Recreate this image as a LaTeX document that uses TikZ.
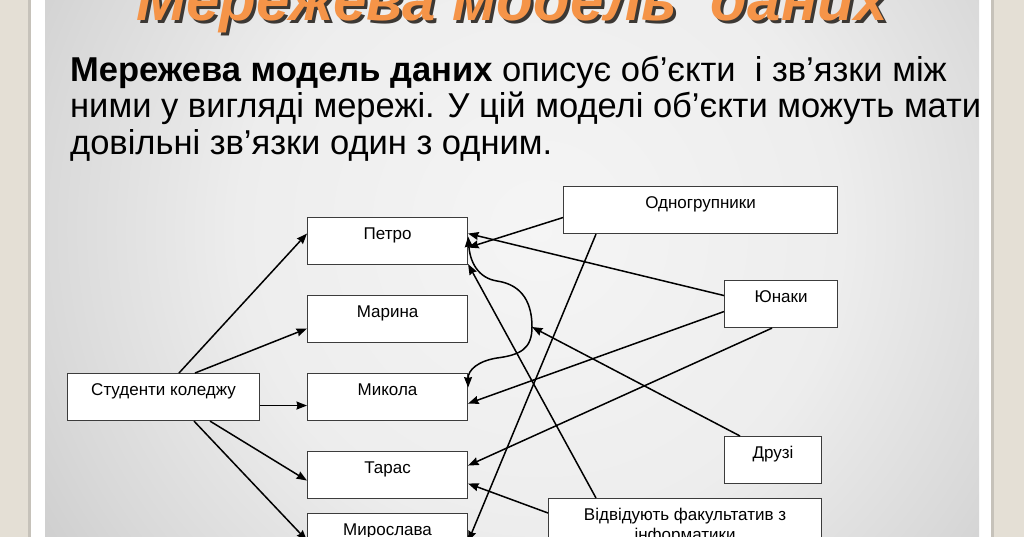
\documentclass[tikz,border=0pt]{standalone}
\usepackage{fontspec}
\setmainfont{Liberation Sans}
\usetikzlibrary{arrows.meta,calc}
\definecolor{beige}{RGB}{228,223,213}
\definecolor{frameline}{RGB}{198,194,186}
\definecolor{torange}{RGB}{245,148,72}
\definecolor{tshadow}{RGB}{60,56,52}
\definecolor{boxline}{RGB}{60,60,60}
\pgfdeclareradialshading{panelshade}{\pgfpoint{0bp}{0bp}}{rgb(0bp)=(0.96,0.96,0.96); rgb(7.5bp)=(0.93,0.93,0.93); rgb(12.5bp)=(0.85,0.85,0.85); rgb(17.5bp)=(0.76,0.76,0.76); rgb(22.5bp)=(0.68,0.68,0.68); rgb(28bp)=(0.62,0.62,0.62); rgb(50bp)=(0.58,0.58,0.58)}
\newcommand{\myshadowtxt}[1]{\makebox[0pt][l]{\hspace{3pt}\raisebox{-3pt}{\color{tshadow}#1}}{\color{torange}#1}}
\tikzset{
  box/.style={draw=boxline, line width=1.1pt, fill=white, anchor=north west, inner xsep=0pt, inner ysep=0pt, text height=22pt, text depth=25pt, font=\fontsize{17}{19.5}\selectfont},
  conn/.style={line width=1.5pt, ->},
  para/.style={anchor=base west, inner sep=0pt, font=\fontsize{34.5}{37}\selectfont},
}
\begin{document}
\begin{tikzpicture}[x=1pt,y=-1pt, >={Stealth[length=10.5pt,width=8pt,inset=1pt]}]
\useasboundingbox (0,0) rectangle (1024,537);
\clip (0,0) rectangle (1024,537);
% frame
\fill[beige] (0,0) rectangle (1024,537);
\fill[frameline] (28,0) rectangle (31,537);
\fill[white] (31,0) rectangle (991,537);
\fill[frameline] (991,0) rectangle (994,537);
\begin{scope}
  \clip (45,0) rectangle (979,537);
  \shade[shading=panelshade] (540,230) circle (1000);
\end{scope}
% title
\node[anchor=base, inner sep=0pt, font=\bfseries\itshape\fontsize{60}{62}\selectfont] (title) at (512,21) {\myshadowtxt{Мережева модель~ даних}};
% paragraph
\node[para] (p1) at (70,82) {\textbf{Мережева модель даних} описує об’єкти~ і зв’язки між};
\node[para] (p2) at (70,118) {ними у вигляді мережі. У цій моделі об’єкти можуть мати};
\node[para] (p3) at (70,155) {довільні зв’язки один з одним.};
% boxes
\node[box, minimum width=192pt, minimum height=47pt] (stud) at (67,373) {Студенти коледжу};
\node[box, minimum width=160pt, minimum height=47pt] (petro) at (307,217) {Петро};
\node[box, minimum width=160pt, minimum height=47pt] (marina) at (307,295) {Марина};
\node[box, minimum width=160pt, minimum height=47pt] (mykola) at (307,373) {Микола};
\node[box, minimum width=160pt, minimum height=47pt] (taras) at (307,451) {Тарас};
\node[box, minimum width=160pt, minimum height=47pt] (myros) at (307,513) {Мирослава};
\node[box, minimum width=274pt, minimum height=47pt] (odno) at (563,186) {Одногрупники};
\node[box, minimum width=113pt, minimum height=47pt] (yunaky) at (724,280) {Юнаки};
\node[box, minimum width=97pt, minimum height=47pt] (druzi) at (724,436) {Друзі};
\node[box, minimum width=273pt, text depth=45pt] (vidv) at (548,498) {\begin{tabular}[t]{@{}c@{}}Відвідують факультатив з\\інформатики\end{tabular}};
% connectors from students
\draw[conn] ([xshift=112pt]stud.north west) -- ([yshift=7.5pt]petro.west);
\draw[conn] ([xshift=128pt]stud.north west) -- ([yshift=-9.5pt]marina.west);
\draw[conn] ([yshift=-8.5pt]stud.east) -- ([yshift=-8.5pt]mykola.west);
\draw[conn] ([xshift=143pt]stud.south west) -- ([yshift=-5.5pt]taras.west);
\draw[conn] ([xshift=127pt]stud.south west) -- ([yshift=-3.5pt]myros.west);
% right side connectors
\draw[conn] ([yshift=-7.5pt]odno.west) -- ([yshift=-6.5pt]petro.east);
\draw[conn] ([yshift=8.5pt]yunaky.west) -- ([yshift=7.5pt]petro.east);
\draw[conn] ([xshift=48pt]vidv.north west) -- ([yshift=1pt]petro.south east);
\draw[conn] ([yshift=-7.5pt]yunaky.west) -- ([yshift=-6.5pt]mykola.east);
\draw[conn] ([xshift=48pt]yunaky.south west) -- ([yshift=9.5pt]taras.east);
\draw[conn] ([yshift=-15pt]vidv.north west) -- ([yshift=-8.5pt]taras.east);
\draw[conn] ([xshift=33pt]odno.south west) -- ([yshift=-4.5pt]myros.east);
% S-curve
\coordinate (sc) at (532,327);
\draw[line width=1.5pt, <->] ([yshift=4.5pt]petro.east) .. controls (470,262) and (478,278) .. (497,281) .. controls (524,285) and (532,305) .. (sc) .. controls (532,349) and (520,355) .. (497,358) .. controls (478,361) and (468,370) .. ([yshift=9.5pt]mykola.east);
\draw[conn] ([xshift=16pt]druzi.north west) -- (sc);
\end{tikzpicture}
\end{document}
